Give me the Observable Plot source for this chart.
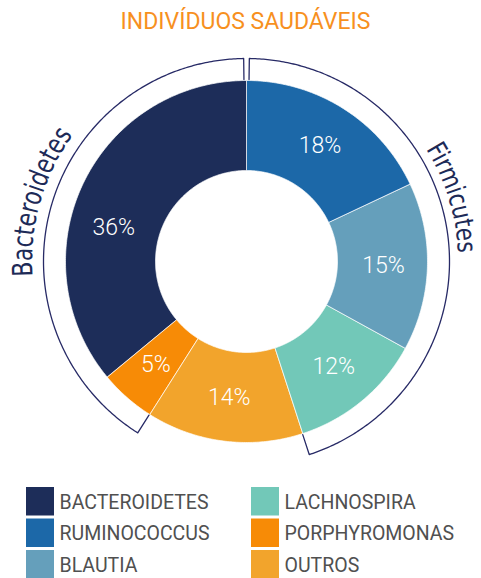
<!DOCTYPE html>
<html>
<head>
<meta charset="utf-8">
<script src="https://cdn.jsdelivr.net/npm/d3@7"></script>
<script src="https://cdn.jsdelivr.net/npm/@observablehq/plot@0.6"></script>
<style>
  html, body { margin: 0; padding: 0; background: #ffffff; }
  #chart { width: 481px; height: 578px; overflow: hidden; }
  #chart svg { display: block; }
</style>
</head>
<body>
<div id="chart"></div>
<script>
// ---- data ----
const title = "INDIVÍDUOS SAUDÁVEIS";
const categories = ["RUMINOCOCCUS", "BLAUTIA", "LACHNOSPIRA", "OUTROS", "PORPHYROMONAS", "BACTEROIDETES"];
const values = [18, 15, 12, 14, 5, 36];
const phyla = ["Firmicutes", "Firmicutes", "Firmicutes", null, "Bacteroidetes", "Bacteroidetes"];
const colors = ["#1c68a8", "#659fbb", "#72c8b8", "#f2a42c", "#f78b06", "#1d2d59"];
const legendOrder = ["BACTEROIDETES", "RUMINOCOCCUS", "BLAUTIA", "LACHNOSPIRA", "PORPHYROMONAS", "OUTROS"];
const bracketLabels = ["Bacteroidetes", "Firmicutes"];

// ---- layout ----
const W = 481, H = 578;
const cx = 246, cy = 261, rIn = 91, rOut = 181, rBr = 203, rTick = 182, rLab = 137;
const deg = Math.PI / 180;
const px = (r, a) => cx + r * Math.sin(a);
const py = (r, a) => cy - r * Math.cos(a);

const pie = d3.pie().sort(null).value(d => d)(values);
const slices = categories.map((name, i) => ({
  name, value: values[i], phylum: phyla[i],
  a0: pie[i].startAngle, a1: pie[i].endAngle
}));

// slice polygons
const slicePts = slices.flatMap(s => {
  const n = Math.max(2, Math.ceil((s.a1 - s.a0) / 0.01));
  const pts = [];
  for (let k = 0; k <= n; k++) { const a = s.a0 + (s.a1 - s.a0) * k / n; pts.push({name: s.name, x: px(rOut, a), y: py(rOut, a)}); }
  for (let k = n; k >= 0; k--) { const a = s.a0 + (s.a1 - s.a0) * k / n; pts.push({name: s.name, x: px(rIn, a), y: py(rIn, a)}); }
  return pts;
});

// percent labels
const labels = slices.map(s => {
  let a = (s.a0 + s.a1) / 2;
  if (s.name === "BACTEROIDETES") a -= 11 * deg;
  return {text: s.value + "%", x: px(rLab, a), y: py(rLab, a)};
});

// brackets
const gap = 0.8 * deg;
const bracketPts = bracketLabels.flatMap(ph => {
  const mem = slices.filter(s => s.phylum === ph);
  let a0 = d3.min(mem, s => s.a0), a1 = d3.max(mem, s => s.a1);
  if (a0 < 1e-6) a0 += gap;
  if (a1 > 2 * Math.PI - 1e-6) a1 -= gap;
  const pts = [{ph, x: px(rTick, a0), y: py(rTick, a0)}];
  const n = Math.ceil((a1 - a0) / 0.01);
  for (let k = 0; k <= n; k++) { const a = a0 + (a1 - a0) * k / n; pts.push({ph, x: px(rBr, a), y: py(rBr, a)}); }
  pts.push({ph, x: px(rTick, a1), y: py(rTick, a1)});
  return pts;
});

// legend
const legendItems = legendOrder.map((name, i) => ({name, col: Math.floor(i / 3), row: i % 3}));
const lx = d => d.col ? 251 : 26;
const ly = d => 487 + d.row * 31.5;

const plot = Plot.plot({
  width: W, height: H, margin: 0,
  x: {domain: [0, W], range: [0, W], axis: null},
  y: {domain: [0, H], range: [0, H], axis: null},
  color: {domain: categories, range: colors},
  style: {background: "transparent", fontFamily: "Roboto, sans-serif"},
  marks: [
    Plot.line(slicePts, {x: "x", y: "y", z: "name", fill: "name", stroke: "#ffffff", strokeWidth: 0.7, curve: "linear-closed"}),
    Plot.line(bracketPts, {x: "x", y: "y", z: "ph", stroke: "#272a66", strokeWidth: 1.3, fill: "none"}),
    Plot.text(labels, {x: "x", y: "y", text: "text", fill: "#ffffff", fontSize: 23, fontWeight: 300, fontFamily: "Roboto, sans-serif"}),
    Plot.text([title], {x: () => 245, y: () => 21, text: d => d, fill: "#f7901e", fontSize: 23, fontFamily: "Roboto, sans-serif"}),
    Plot.rect(legendItems, {x1: lx, x2: d => lx(d) + 28, y1: ly, y2: d => ly(d) + 28.5, fill: "name"}),
    Plot.text(legendItems, {x: d => lx(d) + 33, y: d => ly(d) + 15, text: "name", textAnchor: "start", fill: "#505050", fontSize: 19.5, fontFamily: "Roboto, sans-serif"})
  ]
});

// curved phylum labels along the brackets
const svg = d3.select(plot);
const defs = svg.append("defs");
const txtSpec = [
  {label: bracketLabels[0], mid: 286, len: 150, r: 214, size: 28},
  {label: bracketLabels[1], mid: 73, len: 110, r: 212, size: 26.5}
];
txtSpec.forEach((t, i) => {
  const a0 = (t.mid - 70) * deg, a1 = (t.mid + 70) * deg;
  defs.append("path").attr("id", "arcp" + i)
    .attr("d", `M${px(t.r, a0)},${py(t.r, a0)} A${t.r},${t.r} 0 0 1 ${px(t.r, a1)},${py(t.r, a1)}`);
  svg.append("text")
    .attr("font-family", "'Liberation Sans Narrow', 'DejaVu Sans Condensed', Roboto, sans-serif")
    .attr("font-size", t.size)
    .attr("fill", "#1d2a57")
    .append("textPath")
    .attr("href", "#arcp" + i)
    .attr("startOffset", "50%")
    .attr("text-anchor", "middle")
    .attr("textLength", t.len)
    .attr("lengthAdjust", "spacingAndGlyphs")
    .text(t.label);
});

document.getElementById("chart").appendChild(plot);
</script>
</body>
</html>
